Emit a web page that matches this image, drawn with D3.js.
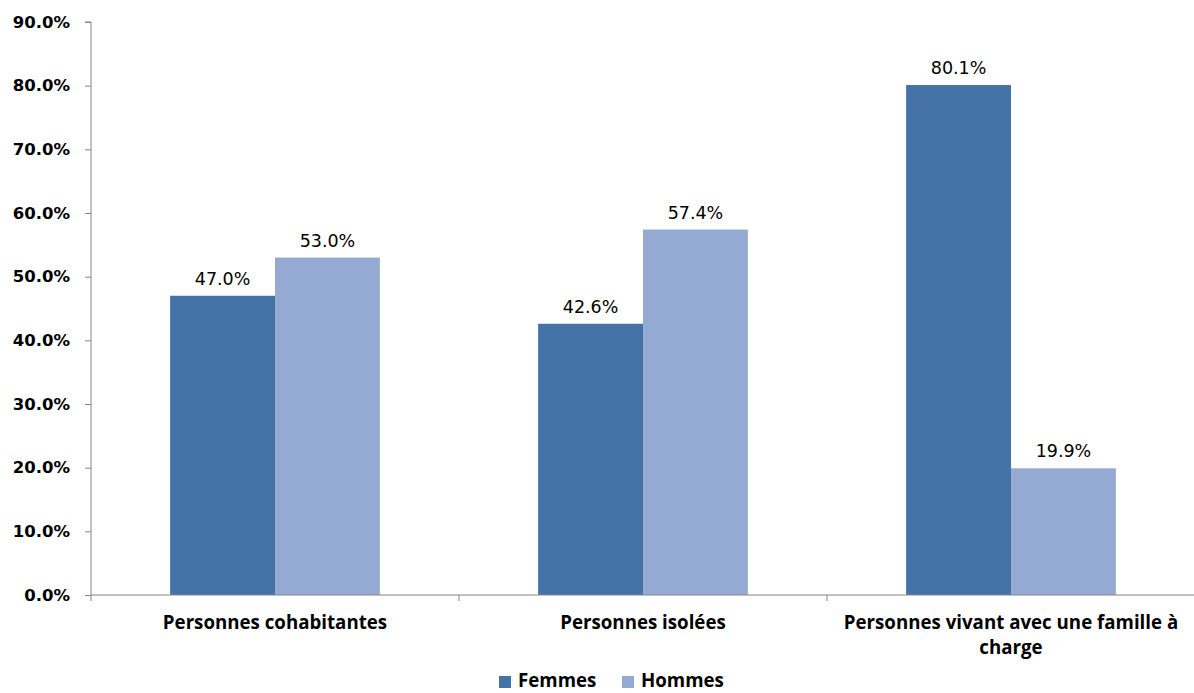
<!DOCTYPE html>
<html><head><meta charset="utf-8">
<script src="https://cdn.jsdelivr.net/npm/d3@7"></script>
<style>body{margin:0;background:#fff}</style>
</head><body>
<svg id="c" width="1194" height="693"></svg>
<script>
const categories = ["Personnes cohabitantes", "Personnes isolées", "Personnes vivant avec une famille à charge"];
const seriesNames = ["Femmes", "Hommes"];
const femmes = [47.0, 42.6, 80.1];
const hommes = [53.0, 57.4, 19.9];
const yTicks = [0, 10, 20, 30, 40, 50, 60, 70, 80, 90];
const colors = ["#4673A7", "#95AAD2"];

const svg = d3.select("#c");
const pL = 91, pR = 1195, pT = 22, pB = 595;
const x = d3.scaleBand().domain(categories).range([pL, pR]).paddingInner(0).paddingOuter(0);
const y = d3.scaleLinear().domain([0, 90]).range([pB, pT]);
const groupW = x.bandwidth() * 0.57;
const xs = d3.scaleBand().domain(seriesNames).range([0, groupW]).padding(0);
const values = [femmes, hommes];

const g = svg.append("g");
seriesNames.forEach((s, si) => {
  g.selectAll(".bar" + si).data(categories).enter().append("rect")
    .attr("x", d => x(d) + (x.bandwidth() - groupW) / 2 + xs(s))
    .attr("y", (d, i) => y(values[si][i]))
    .attr("width", xs.bandwidth())
    .attr("height", (d, i) => pB - y(values[si][i]))
    .attr("fill", colors[si]);
  g.selectAll(".lab" + si).data(categories).enter().append("text")
    .attr("x", d => x(d) + (x.bandwidth() - groupW) / 2 + xs(s) + xs.bandwidth() / 2)
    .attr("y", (d, i) => y(values[si][i]) - 11)
    .attr("text-anchor", "middle")
    .attr("font-family", "DejaVu Sans, Verdana, sans-serif")
    .attr("font-size", 17.5)
    .attr("fill", "#000")
    .text((d, i) => values[si][i].toFixed(1) + "%");
});

const yAxis = d3.axisLeft(y).tickValues(yTicks).tickSize(6).tickPadding(15).tickFormat(d => d.toFixed(1) + "%");
const ya = svg.append("g").attr("transform", `translate(${pL},0)`).call(yAxis);
ya.select(".domain").attr("stroke", "#868686").attr("d", `M-6,${pT}H0V${pB}`);
ya.selectAll(".tick line").attr("stroke", "#868686");
ya.selectAll(".tick text").attr("font-family", "DejaVu Sans, Verdana, sans-serif").attr("font-weight", "bold").attr("font-size", 16.5).attr("fill", "#000");

const xa = svg.append("g").attr("transform", `translate(0,${pB})`);
xa.append("line").attr("x1", pL).attr("x2", 1194).attr("y1", 0).attr("y2", 0).attr("stroke", "#868686");
const bounds = categories.map(c => x(c)).concat([x(categories[categories.length - 1]) + x.bandwidth()]);
xa.selectAll(".xt").data(bounds).enter().append("line")
  .attr("x1", d => d).attr("x2", d => d).attr("y1", 0).attr("y2", 6).attr("stroke", "#868686");

const catLines = [["Personnes cohabitantes"], ["Personnes isolées"], ["Personnes vivant avec une famille à", "charge"]];
categories.forEach((c, i) => {
  const t = xa.append("text").attr("text-anchor", "middle")
    .attr("font-family", "Open Sans, sans-serif").attr("font-weight", "bold").attr("font-size", 18.7).attr("fill", "#000");
  catLines[i].forEach((ln, li) => {
    t.append("tspan").attr("x", x(c) + x.bandwidth() / 2).attr("y", 34 + li * 25).text(ln);
  });
});

const leg = svg.append("g");
const legX = [499, 622];
seriesNames.forEach((s, si) => {
  leg.append("rect").attr("x", legX[si]).attr("y", 676).attr("width", 12).attr("height", 12).attr("fill", colors[si]);
  leg.append("text").attr("x", legX[si] + 19).attr("y", 687)
    .attr("font-family", "Open Sans, sans-serif").attr("font-weight", "bold").attr("font-size", 18.7).attr("fill", "#000").text(s);
});
</script>
</body></html>
